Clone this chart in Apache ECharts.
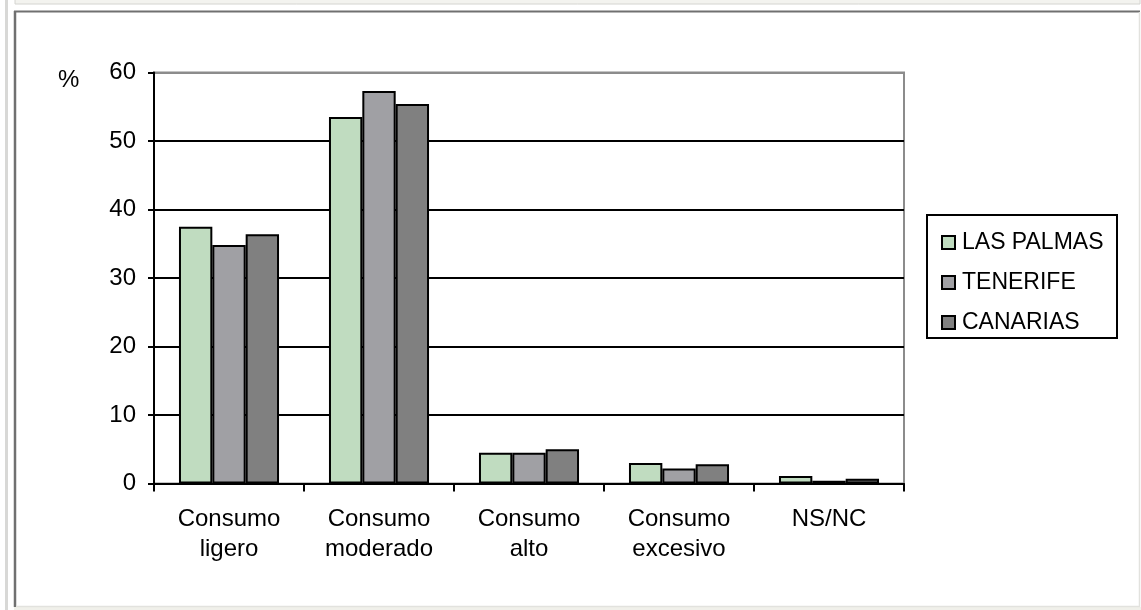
<!DOCTYPE html>
<html>
<head>
<meta charset="utf-8">
<title>Consumo de alcohol</title>
<script src="https://cdn.jsdelivr.net/npm/echarts@6/dist/echarts.min.js"></script>
<style>
  html, body { margin: 0; padding: 0; background: #ffffff; }
  #chart { width: 1141px; height: 610px; }
</style>
</head>
<body>
<div id="chart"></div>
<script>
// Categories of consumption and percentage per area
const categories = ['Consumo ligero', 'Consumo moderado', 'Consumo alto', 'Consumo excesivo', 'NS/NC'];
const lasPalmas = [37.5, 53.5, 4.5, 3.0, 1.1];
const tenerife  = [34.8, 57.3, 4.5, 2.2, 0.4];
const canarias  = [36.4, 55.4, 5.0, 2.8, 0.7];
const seriesNames = ['LAS PALMAS', 'TENERIFE', 'CANARIAS'];
const yTicks = [0, 10, 20, 30, 40, 50, 60];

const FONT = '"Liberation Sans", Arial, sans-serif';
const colors = ['#c0dcc0', '#a0a0a4', '#808080'];

const chart = echarts.init(document.getElementById('chart'), null, { renderer: 'canvas' });

function barSeries(name, data, color) {
  return {
    name: name,
    type: 'bar',
    data: data,
    barGap: '0%',
    barCategoryGap: '33.3%',
    itemStyle: { color: color, borderColor: '#000000', borderWidth: 2 },
    emphasis: { disabled: true },
    animation: false
  };
}

chart.setOption({
  backgroundColor: '#ffffff',
  animation: false,
  textStyle: { fontFamily: FONT },
  title: {
    text: '%',
    left: 53,
    top: 63,
    textStyle: { fontFamily: FONT, fontSize: 24, fontWeight: 'normal', color: '#000' }
  },
  grid: {
    left: 154, right: 237, top: 72.5, bottom: 126.5,
    show: true,
    backgroundColor: 'transparent',
    borderColor: '#8c8c8c',
    borderWidth: 2
  },
  legend: {
    orient: 'vertical',
    left: 936,
    top: 224,
    itemWidth: 13,
    itemHeight: 13,
    itemGap: 13,
    icon: 'rect',
    selectedMode: false,
    data: seriesNames,
    textStyle: {
      fontFamily: FONT, fontSize: 23, color: '#000',
      lineHeight: 27, padding: [0, 0, 0, 2]
    }
  },
  xAxis: {
    type: 'category',
    data: categories,
    axisLine: { show: true, lineStyle: { color: '#000', width: 2 } },
    axisTick: { show: true, length: 8, inside: false, alignWithLabel: false, lineStyle: { color: '#000', width: 2 } },
    axisLabel: {
      interval: 0,
      margin: 21,
      fontFamily: FONT,
      fontSize: 24,
      lineHeight: 30,
      color: '#000',
      formatter: function (v) { return v.replace(' ', '\n'); }
    },
    splitLine: { show: false }
  },
  yAxis: {
    type: 'value',
    min: yTicks[0],
    max: yTicks[yTicks.length - 1],
    interval: 10,
    axisLine: { show: true, lineStyle: { color: '#000', width: 2 } },
    axisTick: { show: true, length: 6, lineStyle: { color: '#000', width: 2 } },
    axisLabel: { margin: 18, fontFamily: FONT, fontSize: 24, color: '#000' },
    splitLine: {
      show: true,
      lineStyle: {
        width: 2,
        color: ['#000', '#000', '#000', '#000', '#000', '#000', '#8c8c8c']
      }
    }
  },
  graphic: [
    // page strip above the chart panel
    { type: 'rect', silent: true, z: -10, shape: { x: 15, y: -2, width: 1125, height: 6 },
      style: { fill: '#f3f3ef', stroke: '#d4d4d0', lineWidth: 1 } },
    // left page rule
    { type: 'rect', silent: true, z: -10, shape: { x: 5, y: 0, width: 3, height: 610 },
      style: { fill: '#d8d8d6' } },
    // strip below the chart panel
    { type: 'rect', silent: true, z: -10, shape: { x: 14, y: 607, width: 1127, height: 3 },
      style: { fill: '#f0f0ea' } },
    // chart panel frame: dark top/left, light bottom/right
    { type: 'line', silent: true, z: -5, shape: { x1: 14, y1: 11.5, x2: 1140, y2: 11.5 },
      style: { stroke: '#707070', lineWidth: 2 } },
    { type: 'line', silent: true, z: -5, shape: { x1: 15, y1: 11, x2: 15, y2: 607 },
      style: { stroke: '#707070', lineWidth: 2.5 } },
    { type: 'line', silent: true, z: -5, shape: { x1: 1139.5, y1: 12, x2: 1139.5, y2: 607 },
      style: { stroke: '#e2e2de', lineWidth: 1.5 } },
    { type: 'line', silent: true, z: -5, shape: { x1: 16, y1: 606.5, x2: 1140, y2: 606.5 },
      style: { stroke: '#e2e2de', lineWidth: 1.5 } },
    // legend frame
    { type: 'rect', silent: true, z: 1, shape: { x: 927, y: 215, width: 190, height: 123 },
      style: { fill: '#ffffff', stroke: '#000000', lineWidth: 2 } }
  ],
  series: [
    barSeries(seriesNames[0], lasPalmas, colors[0]),
    barSeries(seriesNames[1], tenerife, colors[1]),
    barSeries(seriesNames[2], canarias, colors[2])
  ]
});
</script>
</body>
</html>
